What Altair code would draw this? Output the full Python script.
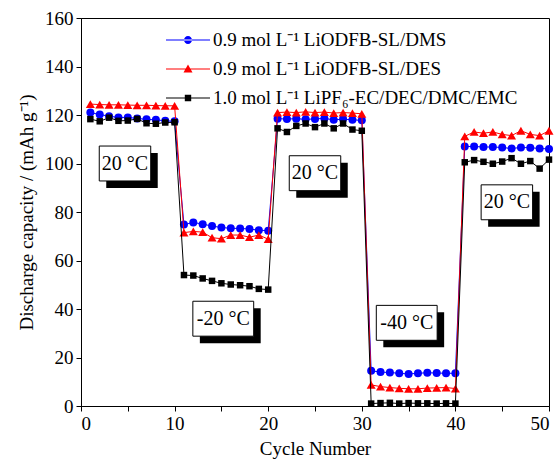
import altair as alt
import pandas as pd

cycles = list(range(1, 51))

dms = [121.0, 120.2, 119.5, 119.0, 119.0, 118.6, 118.2, 118.0, 117.6, 117.4,
       74.8, 75.7, 75.0, 74.2, 73.6, 73.3, 73.2, 73.0, 72.5, 72.3,
       118.5, 118.3, 118.5, 118.2, 118.4, 118.6, 118.0, 118.3, 118.0, 117.8,
       14.5, 14.0, 13.8, 13.5, 13.2, 13.5, 13.7, 13.6, 13.5, 13.5,
       107.0, 107.0, 106.8, 106.8, 106.6, 106.2, 106.6, 106.5, 106.2, 106.0]

des = [124.5, 124.3, 124.2, 124.2, 124.1, 124.0, 124.0, 123.9, 123.8, 123.8,
       71.5, 72.0, 71.7, 69.4, 69.0, 70.5, 70.5, 69.6, 70.5, 68.8,
       121.0, 121.2, 121.0, 121.3, 121.0, 121.2, 120.8, 121.0, 120.8, 120.5,
       8.7, 8.0, 7.6, 7.3, 7.1, 7.1, 7.4, 7.5, 7.6, 7.2,
       111.2, 113.0, 112.5, 113.0, 112.0, 111.5, 113.5, 112.0, 111.5, 113.5]

lipf6 = [118.3, 117.4, 118.9, 117.6, 117.7, 118.4, 116.6, 116.4, 116.9, 117.0,
         54.0, 53.8, 52.6, 51.6, 50.6, 50.1, 49.8, 49.4, 48.3, 48.0,
         114.5, 113.0, 115.5, 116.5, 115.0, 116.5, 114.5, 116.5, 114.0, 113.5,
         1.0, 1.2, 1.3, 1.0, 1.2, 1.1, 1.1, 1.0, 1.1, 1.0,
         100.5, 101.4, 100.7, 99.9, 100.8, 102.2, 99.9, 101.0, 97.9, 101.6]

series_names = ["0.9 mol L\u207b\u00b9 LiODFB-SL/DMS",
                "0.9 mol L\u207b\u00b9 LiODFB-SL/DES",
                "1.0 mol L\u207b\u00b9 LiPF\u2086-EC/DEC/DMC/EMC"]
series_colors = ["#0000ff", "#ff0000", "#000000"]
series_shapes = ["circle", "triangle-up", "square"]
series_sizes = [64, 81, 42]

ann_labels = ["20 \u00b0C", "-20 \u00b0C", "20 \u00b0C", "-40 \u00b0C", "20 \u00b0C"]
ann_x = [4.7, 15.2, 25.0, 34.8, 45.5]
ann_y = [100.0, 36.0, 96.0, 34.3, 84.0]
ann_halfw = [2.75, 3.25, 2.75, 3.25, 2.75]
ann_halfh = 7.2

FONT = "Liberation Serif"

rows = []
for name, vals in zip(series_names, [dms, des, lipf6]):
    for c, v in zip(cycles, vals):
        rows.append({"cycle": c, "capacity": v, "series": name})
df = pd.DataFrame(rows)

ann = pd.DataFrame({
    "label": ann_labels,
    "x": ann_x,
    "y": ann_y,
    "x1": [a - w for a, w in zip(ann_x, ann_halfw)],
    "x2": [a + w for a, w in zip(ann_x, ann_halfw)],
    "y1": [a - ann_halfh for a in ann_y],
    "y2": [a + ann_halfh for a in ann_y],
})

xscale = alt.Scale(domain=[0, 50], nice=False)
yscale = alt.Scale(domain=[0, 160], nice=False)

axis_style = dict(labelFont=FONT, labelFontSize=19, labelColor="black",
                  titleFont=FONT, titleFontSize=19, titleFontWeight="normal",
                  titleColor="black", grid=False, domainColor="black",
                  tickColor="black", tickSize=5, labelPadding=3)

xenc = alt.X("cycle:Q", scale=xscale, title="Cycle Number",
             axis=alt.Axis(values=list(range(0, 51, 5)),
                           labelExpr="datum.value % 10 == 0 ? datum.label : ''",
                           titlePadding=6, **axis_style))
yenc = alt.Y("capacity:Q", scale=yscale, title="Discharge capacity / (mAh g\u207b\u00b9)",
             axis=alt.Axis(values=list(range(0, 161, 10)),
                           labelExpr="datum.value % 20 == 0 ? datum.label : ''",
                           titlePadding=8, **axis_style))

layers = []
for name, col, shp, sz in zip(series_names, series_colors, series_shapes, series_sizes):
    base = alt.Chart(df).transform_filter(alt.datum.series == name)
    layers.append(base.mark_line(color=col, strokeWidth=1).encode(x=xenc, y=yenc))
    layers.append(base.mark_point(shape=shp, filled=True, size=sz, color=col, opacity=1)
                  .encode(x=xenc, y=yenc))

# legend symbol: 1 unit = 10 px (symbolSize 400)
LINE = "M-2.2,-0.05H2.2V0.05H-2.2Z "
legend_paths = [LINE + "M-0.4,0A0.4,0.4 0 1,0 0.4,0A0.4,0.4 0 1,0 -0.4,0Z",
                LINE + "M0,-0.45L0.45,0.35L-0.45,0.35Z",
                LINE + "M-0.32,-0.32H0.32V0.32H-0.32Z"]

legend_layer = alt.Chart(df).transform_filter("false").mark_point(filled=True, opacity=1).encode(
    x=alt.X("cycle:Q", scale=xscale),
    y=alt.Y("capacity:Q", scale=yscale),
    color=alt.Color("series:N", scale=alt.Scale(domain=series_names, range=series_colors),
                    legend=alt.Legend(title=None, orient="none", legendX=97, legendY=12,
                                      symbolSize=400, symbolStrokeWidth=0,
                                      labelFont=FONT, labelFontSize=19, labelColor="black",
                                      labelLimit=400, rowPadding=9, labelOffset=15)),
    shape=alt.Shape("series:N", scale=alt.Scale(domain=series_names, range=legend_paths)),
)
layers.append(legend_layer)

shadow = alt.Chart(ann).mark_rect(color="black", xOffset=7, x2Offset=7, yOffset=7, y2Offset=7).encode(
    x=alt.X("x1:Q", scale=xscale), x2="x2:Q",
    y=alt.Y("y1:Q", scale=yscale), y2="y2:Q")
box = alt.Chart(ann).mark_rect(fill="white", stroke="black", strokeWidth=1).encode(
    x=alt.X("x1:Q", scale=xscale), x2="x2:Q",
    y=alt.Y("y1:Q", scale=yscale), y2="y2:Q")
txt = alt.Chart(ann).mark_text(font=FONT, fontSize=20, color="black", baseline="middle").encode(
    x=alt.X("x:Q", scale=xscale), y=alt.Y("y:Q", scale=yscale), text="label:N")
layers += [shadow, box, txt]

chart = alt.layer(*layers).properties(
    width=468, height=388,
    autosize=alt.AutoSizeParams(type="none"),
    padding={"left": 81, "top": 18, "right": 10, "bottom": 62},
).configure_view(stroke="black", strokeWidth=1).configure_axis(
    grid=False, domainColor="black", tickColor="black", tickSize=5,
    labelFont=FONT, labelFontSize=19, labelColor="black",
    titleFont=FONT, titleFontSize=19, titleFontWeight="normal", titleColor="black",
    labelPadding=3,
)

chart.save("out.html", embed_options={"renderer": "svg", "actions": False})
